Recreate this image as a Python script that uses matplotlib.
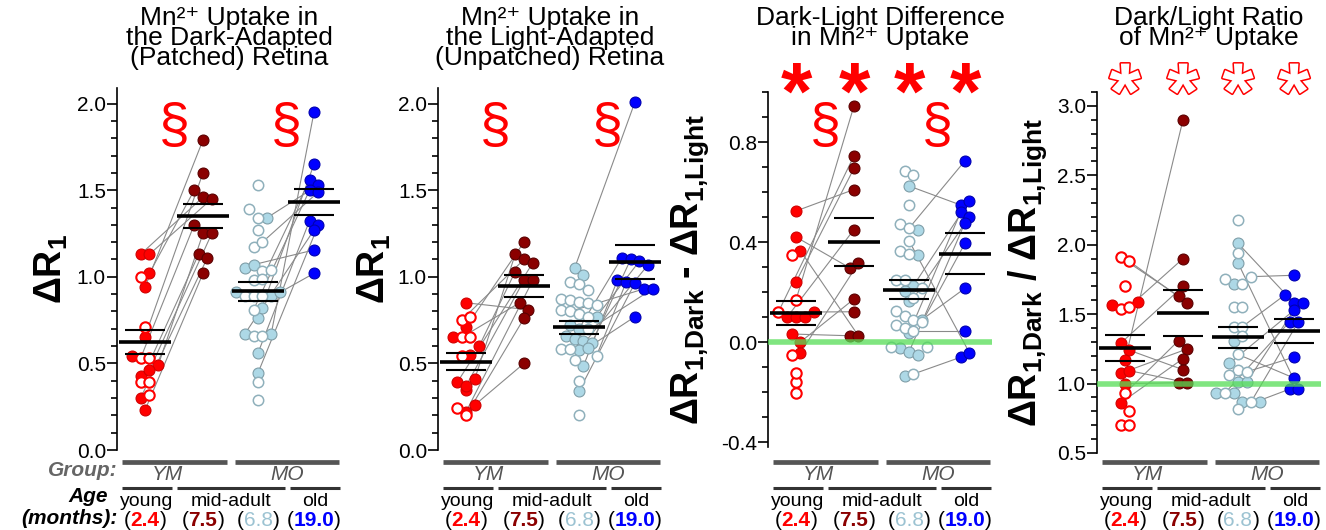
import numpy as np
import matplotlib
matplotlib.use("Agg")
import matplotlib.pyplot as plt
from matplotlib import patheffects
from matplotlib.transforms import blended_transform_factory
from matplotlib.ticker import MultipleLocator, FormatStrFormatter

plt.rcParams['font.family'] = ['Liberation Sans', 'DejaVu Sans']
plt.rcParams['mathtext.fontset'] = 'custom'
plt.rcParams['mathtext.rm'] = 'Liberation Sans'
plt.rcParams['mathtext.it'] = 'Liberation Sans:italic'
plt.rcParams['mathtext.bf'] = 'Liberation Sans:bold'
plt.rcParams['axes.unicode_minus'] = False

# ---------------------------------------------------------------- data
# Groups: young (YM), mid-adult (YM), mid-adult (MO), old (MO)
group_names = ["young", "mid-adult", "old"]
group_ages = ["2.4", "7.5", "6.8", "19.0"]
cohorts = ["YM", "MO"]

# Panel 1: dark-adapted (patched) retina, dR1
p1_young = [1.13, 1.13, 1.00, 1.02, 0.94, 0.71, 0.655, 0.54, 0.53, 0.53, 0.49,
            0.43, 0.46, 0.395, 0.395, 0.30, 0.32, 0.23]
p1_young_open = [0, 0, 1, 0, 0, 1, 0, 0, 1, 1, 0, 0, 0, 1, 1, 0, 1, 0]
p1_ymid = [1.79, 1.60, 1.50, 1.46, 1.45, 1.30, 1.25, 1.25, 1.13, 1.11, 1.02]
p1_momid = [1.53, 1.39, 1.34, 1.34, 1.27, 1.17, 1.20, 1.05, 1.07, 1.035, 1.04,
            0.98, 0.99, 0.91, 0.89, 0.89, 0.89, 0.89, 0.91, 0.81, 0.82, 0.76,
            0.67, 0.66, 0.66, 0.67, 0.56, 0.445, 0.39, 0.29]
p1_momid_open = [1, 1, 1, 0, 1, 1, 1, 0, 0, 1, 1, 1, 1, 0, 1, 1, 1, 0, 0, 1, 0,
                 0, 0, 1, 1, 0, 0, 0, 1, 1]
p1_old = [1.95, 1.65, 1.56, 1.53, 1.50, 1.49, 1.325, 1.30, 1.27, 1.155, 1.02]
p1_pairs_ym = [(4, 0), (6, 1), (3, 2), (0, 3), (1, 4), (8, 5), (10, 6), (12, 7),
               (13, 8), (15, 9), (17, 10)]
p1_pairs_mo = [(25, 0), (21, 1), (12, 2), (3, 3), (19, 4), (6, 5), (26, 6),
               (27, 7), (22, 8), (8, 9), (18, 10)]

# Panel 2: light-adapted (unpatched) retina, dR1
p2_young = [0.85, 0.75, 0.77, 0.71, 0.65, 0.65, 0.65, 0.60, 0.545, 0.55, 0.39,
            0.345, 0.37, 0.41, 0.245, 0.20, 0.22, 0.26]
p2_young_open = [0, 1, 1, 0, 0, 1, 1, 0, 1, 0, 0, 0, 0, 0, 1, 1, 0, 0]
p2_ymid = [1.20, 1.13, 1.10, 1.08, 1.03, 0.98, 0.98, 0.85, 0.81, 0.76, 0.50]
p2_momid = [1.05, 1.01, 0.97, 0.96, 0.925, 0.87, 0.867, 0.857, 0.85, 0.84, 0.81,
            0.80, 0.785, 0.77, 0.77, 0.72, 0.70, 0.70, 0.66, 0.64, 0.63, 0.62,
            0.585, 0.585, 0.58, 0.59, 0.545, 0.52, 0.485, 0.40, 0.34, 0.20]
p2_momid_open = [0, 0, 1, 1, 1, 1, 1, 1, 1, 1, 1, 1, 1, 1, 0, 0, 0, 1, 0, 0, 0,
                 0, 1, 1, 0, 0, 1, 1, 0, 1, 0, 1]
p2_old = [2.01, 1.11, 1.10, 1.09, 1.07, 0.98, 0.97, 0.965, 0.93, 0.93, 0.77]
p2_pairs_ym = [(3, 0), (13, 1), (1, 2), (10, 3), (7, 4), (12, 5), (16, 6),
               (5, 7), (0, 8), (15, 9), (17, 10)]
p2_pairs_mo = [(0, 0), (16, 1), (21, 2), (14, 3), (24, 4), (28, 5), (26, 6),
               (30, 7), (11, 8), (19, 9), (25, 10)]

# Panel 3: dark - light difference
p3_young = [0.524, 0.42, 0.35, 0.365, 0.24, 0.168, 0.12, 0.10, 0.10, 0.10, 0.12,
            0.032, 0.0, -0.052, -0.043, -0.159, -0.123, -0.205]
p3_young_open = [0, 0, 1, 0, 0, 1, 1, 0, 0, 0, 0, 0, 0, 1, 0, 1, 1, 1]
p3_ymid = [0.945, 0.745, 0.695, 0.61, 0.45, 0.297, 0.315, 0.172, 0.121, 0.025,
           0.025]
p3_momid = [0.684, 0.67, 0.624, 0.55, 0.472, 0.455, 0.45, 0.405, 0.365, 0.352,
            0.348, 0.25, 0.25, 0.225, 0.215, 0.205, 0.175, 0.165, 0.125, 0.105,
            0.09, 0.07, 0.055, 0.045, 0.035, 0.08, 0.09, -0.02, -0.025, -0.04,
            -0.05, -0.02, -0.135, -0.128]
p3_momid_open = [1, 1, 0, 1, 1, 1, 0, 1, 1, 1, 0, 1, 1, 0, 1, 0, 1, 0, 1, 1, 1,
                 1, 1, 1, 0, 1, 0, 1, 0, 0, 0, 1, 0, 1]
p3_old = [0.725, 0.548, 0.565, 0.519, 0.50, 0.477, 0.395, 0.215, 0.045, -0.061,
          -0.043]
p3_pairs_ym = [(5, 0), (6, 1), (4, 2), (0, 3), (7, 4), (1, 5), (14, 6), (12, 7),
               (10, 8), (11, 9), (3, 10)]
p3_pairs_mo = [(5, 0), (2, 1), (13, 2), (24, 3), (16, 4), (29, 5), (25, 6),
               (26, 7), (23, 8), (33, 9), (7, 10)]

# Panel 4: dark / light ratio
p4_young = [1.91, 1.88, 1.70, 1.566, 1.535, 1.555, 1.59, 1.29, 1.24, 1.17, 1.074,
            1.093, 1.0, 0.93, 0.86, 0.80, 0.70, 0.70]
p4_young_open = [1, 1, 1, 0, 1, 1, 0, 0, 0, 0, 0, 0, 0, 1, 0, 1, 1, 1]
p4_ymid = [2.90, 1.90, 1.70, 1.63, 1.58, 1.31, 1.25, 1.18, 1.10, 1.006, 1.006]
p4_momid = [2.176, 2.01, 1.94, 1.87, 1.75, 1.716, 1.716, 1.77, 1.55, 1.55, 1.41,
            1.41, 1.31, 1.34, 1.21, 1.145, 1.097, 1.085, 1.06, 1.01, 1.01, 0.93,
            0.93, 0.93, 0.87, 0.87, 0.87, 0.82]
p4_momid_open = [1, 0, 1, 0, 1, 0, 1, 1, 1, 1, 1, 1, 0, 1, 1, 0, 1, 1, 1, 0, 0,
                 0, 1, 0, 0, 1, 0, 1]
p4_old = [1.78, 1.64, 1.58, 1.58, 1.53, 1.445, 1.445, 1.19, 1.04, 0.96, 0.96]
p4_pairs_ym = [(9, 0), (5, 1), (7, 2), (0, 3), (1, 4), (13, 5), (10, 6), (14, 7),
               (8, 8), (12, 9), (11, 10)]
p4_pairs_mo = [(7, 0), (11, 1), (1, 2), (15, 3), (20, 4), (22, 5), (25, 6),
               (17, 7), (14, 8), (27, 9), (3, 10)]

# ---------------------------------------------------------------- style
W, H = 1326, 530
RED, DKRED, LTBLUE, BLUE = "#ff0000", "#8b0000", "#add8e6", "#0000ff"
EDGE = {RED: "#d00000", DKRED: "#5a0000", LTBLUE: "#7f9ea8", BLUE: "#0000b0"}
GROUP_X = [28, 86, 141, 197]      # group centres in axis units (px from spine)
AX_W = 224

fig = plt.figure(figsize=(W / 100, H / 100), dpi=100)


def px_axes(left, top, bottom):
    return fig.add_axes([left / W, 1 - bottom / H, AX_W / W, (bottom - top) / H])


def row_offsets(vals, ppu, diam=8.8):
    """Column-scatter offsets: near-equal values share a row, spread evenly."""
    vals = np.asarray(vals, float)
    order = sorted(range(len(vals)), key=lambda i: (-vals[i], i))
    offs = np.zeros(len(vals))
    rows, cur = [], [order[0]]
    for i in order[1:]:
        if (vals[cur[0]] - vals[i]) * ppu < diam:
            cur.append(i)
        else:
            rows.append(cur)
            cur = [i]
    rows.append(cur)
    for row in rows:
        row = sorted(row)
        k = len(row)
        for j, i in enumerate(row):
            offs[i] = (j - (k - 1) / 2) * diam
    return offs


panels = [
    dict(data=(p1_young, p1_ymid, p1_momid, p1_old),
         opens=(p1_young_open, None, p1_momid_open, None),
         pairs=(p1_pairs_ym, p1_pairs_mo), ylim=(0, 2.09), major=0.5,
         fmt="%.1f", box=(117, 88, 450), ref=None,
         title="Mn²⁺ Uptake in\nthe Dark-Adapted\n(Patched) Retina",
         ylabel=r"ΔR$_\mathbf{1}$", labx=-0.21, marks="§", stars=None),
    dict(data=(p2_young, p2_ymid, p2_momid, p2_old),
         opens=(p2_young_open, None, p2_momid_open, None),
         pairs=(p2_pairs_ym, p2_pairs_mo), ylim=(0, 2.09), major=0.5,
         fmt="%.1f", box=(438, 88, 450), ref=None,
         title="Mn²⁺ Uptake in\nthe Light-Adapted\n(Unpatched) Retina",
         ylabel=r"ΔR$_\mathbf{1}$", labx=-0.20, marks="§", stars=None),
    dict(data=(p3_young, p3_ymid, p3_momid, p3_old),
         opens=(p3_young_open, None, p3_momid_open, None),
         pairs=(p3_pairs_ym, p3_pairs_mo), ylim=(-0.42, 1.0), major=0.4,
         fmt="%.1f", box=(768, 92, 447), ref=0.0,
         title="Dark-Light Difference\nin Mn²⁺ Uptake",
         ylabel=r"ΔR$_\mathbf{1{,}Dark}$ - ΔR$_\mathbf{1{,}Light}$",
         labx=-0.255, marks="§", stars="solid"),
    dict(data=(p4_young, p4_ymid, p4_momid, p4_old),
         opens=(p4_young_open, None, p4_momid_open, None),
         pairs=(p4_pairs_ym, p4_pairs_mo), ylim=(0.5, 3.1), major=0.5,
         fmt="%.1f", box=(1097, 92, 453), ref=1.0,
         title="Dark/Light Ratio\nof Mn²⁺ Uptake",
         ylabel=r"ΔR$_\mathbf{1{,}Dark}$ / ΔR$_\mathbf{1{,}Light}$",
         labx=-0.215, marks=None, stars="hollow"),
]

colors = [RED, DKRED, LTBLUE, BLUE]
fig_y = lambda ypx: 1 - ypx / H

for pi, P in enumerate(panels):
    left, top, bottom = P["box"]
    ax = px_axes(left, top, bottom)
    ax.set_xlim(0, AX_W)
    ax.set_ylim(*P["ylim"])
    ppu = (bottom - top) / (P["ylim"][1] - P["ylim"][0])
    for s in ("top", "right", "bottom"):
        ax.spines[s].set_visible(False)
    ax.spines["left"].set_linewidth(1.2)
    ax.spines["left"].set_bounds(P["ylim"][0], P["ylim"][1])
    ax.set_xticks([])
    ax.yaxis.set_major_locator(MultipleLocator(P["major"]))
    ax.yaxis.set_minor_locator(MultipleLocator(0.1))
    ax.yaxis.set_major_formatter(FormatStrFormatter(P["fmt"]))
    ax.tick_params(axis="y", which="major", length=7, width=1.2, labelsize=15,
                   pad=1)
    ax.tick_params(axis="y", which="minor", length=4.5, width=1.2)
    ax.patch.set_alpha(0)

    xs = []
    for gi, vals in enumerate(P["data"]):
        xs.append(GROUP_X[gi] + row_offsets(vals, ppu))

    # paired lines (same animal at two ages)
    for (a, b), pairs in zip(((0, 1), (2, 3)), P["pairs"]):
        for i, j in pairs:
            ax.plot([xs[a][i], xs[b][j]], [P["data"][a][i], P["data"][b][j]],
                    color="#8a8a8a", lw=0.8, zorder=1)

    for gi, vals in enumerate(P["data"]):
        c = colors[gi]
        op = P["opens"][gi] or [0] * len(vals)
        vals = np.asarray(vals)
        op = np.asarray(op, bool)
        ax.scatter(xs[gi][~op], vals[~op], s=62, facecolor=c,
                   edgecolor=EDGE[c], linewidth=0.8, zorder=2)
        ax.scatter(xs[gi][op], vals[op], s=56, facecolor="white",
                   edgecolor=c if c != LTBLUE else "#8fb0bb",
                   linewidth=1.5 if c == RED else 1.1, zorder=2)
        m = vals.mean()
        se = vals.std(ddof=1) / np.sqrt(len(vals))
        ax.hlines(m, GROUP_X[gi] - 26, GROUP_X[gi] + 26, color="black",
                  lw=2.6, zorder=5)
        ax.hlines([m - se, m + se], GROUP_X[gi] - 20, GROUP_X[gi] + 20,
                  color="black", lw=1.5, zorder=5)

    if P["ref"] is not None:
        ax.axhline(P["ref"], color="#55dd55", lw=4, alpha=0.75, zorder=4)

    # labels
    ax.set_ylabel(P["ylabel"], fontsize=27, fontweight="bold")
    ax.yaxis.set_label_coords(P["labx"], 0.5)

    cx = left + AX_W / 2
    fig.text(cx / W, fig_y(6), P["title"], ha="center", va="top", fontsize=19,
             linespacing=0.78)

    bx = blended_transform_factory(ax.transData, ax.transAxes)
    if P["marks"]:
        for a, b in ((0, 1), (2, 3)):
            ax.text((GROUP_X[a] + GROUP_X[b]) / 2,
                    (bottom - 128) / (bottom - top), P["marks"],
                    transform=bx, ha="center", va="center", fontsize=40,
                    color="red", zorder=6)
    if P["stars"]:
        sy = (bottom - 98) / (bottom - top)
        for gx in GROUP_X:
            if P["stars"] == "solid":
                ax.text(gx, sy, "*", transform=bx, ha="center", va="center",
                        fontsize=58, fontweight="bold", color="red",
                        clip_on=False)
            else:
                t = ax.text(gx, sy, "*", transform=bx, ha="center",
                            va="center", fontsize=58, fontweight="bold",
                            color="white", clip_on=False)
                t.set_path_effects([patheffects.withStroke(linewidth=2.2,
                                                           foreground="red")])

    # cohort / age annotation rows under the axis
    tb = blended_transform_factory(ax.transData, fig.transFigure)
    for (x0, x1), lab, lx in (((5, 110), cohorts[0], 50),
                               ((118, 222), cohorts[1], 170)):
        ax.plot([x0, x1], [fig_y(462)] * 2, transform=tb, color="#555555",
                lw=3.4, clip_on=False, solid_capstyle="butt")
        ax.text(lx, fig_y(475), lab, transform=tb, ha="center", va="center",
                fontsize=15, style="italic", color="#555555")
    spans = [(5, 55), (60, 168), (173, 223)]
    for (x0, x1), name in zip(spans, group_names):
        ax.plot([x0, x1], [fig_y(488)] * 2, transform=tb, color="#333333",
                lw=2.2, clip_on=False, solid_capstyle="butt")
        ax.text((x0 + x1) / 2, fig_y(501), name, transform=tb, ha="center",
                va="center", fontsize=14)
    for gi, age in enumerate(group_ages):
        bold = "normal" if colors[gi] == LTBLUE else "bold"
        col = "#9cc3d2" if colors[gi] == LTBLUE else colors[gi]
        t = ax.text(GROUP_X[gi], fig_y(526), age, transform=tb, ha="center",
                    va="baseline", fontsize=15, fontweight=bold, color=col)
        ax.annotate("(", xy=(0, 0), xycoords=t, ha="right", va="bottom",
                    fontsize=15, annotation_clip=False)
        ax.annotate(")", xy=(1, 0), xycoords=t, ha="left", va="bottom",
                    fontsize=15, annotation_clip=False)

    if pi == 0:
        fig.text(118 / W, fig_y(471), "Group:", ha="right", va="center",
                 fontsize=15, fontweight="bold", style="italic",
                 color="#666666")
        fig.text(88 / W, fig_y(497), "Age", ha="center", va="center",
                 fontsize=15, fontweight="bold", style="italic")
        fig.text(118 / W, fig_y(518), "(months):", ha="right", va="center",
                 fontsize=15, fontweight="bold", style="italic")

fig.savefig("out.png", dpi=100)
